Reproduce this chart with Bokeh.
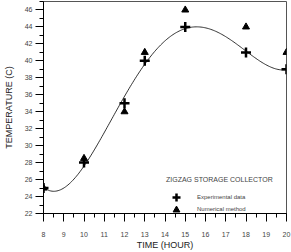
import numpy as np
from bokeh.plotting import figure
from bokeh.models import Legend, LegendItem, FixedTicker, Range1d
from bokeh.embed import file_html
from bokeh.resources import INLINE

# Hourly temperatures of the zigzag storage collector
hours = [8, 10, 12, 13, 15, 18, 20]
experimental = [25, 28, 35, 40, 44, 41, 39]
numerical = [25, 28.5, 34, 41, 46, 44, 41]

x_ticks = list(range(8, 21))
y_ticks = list(range(22, 48, 2))

p = figure(width=291, height=252, output_backend="svg", toolbar_location=None,
           x_range=Range1d(8, 20), y_range=Range1d(22, 47),
           min_border_left=43, min_border_right=5, min_border_top=1,
           min_border_bottom=28)
p.background_fill_color = "white"
p.border_fill_color = "white"
p.outline_line_color = "#555555"
p.outline_line_width = 1
p.xgrid.visible = False
p.ygrid.visible = False

font = "Liberation Sans"
for ax in (p.xaxis[0], p.yaxis[0]):
    ax.axis_line_color = "black"
    ax.major_tick_line_color = "black"
    ax.minor_tick_line_color = "black"
    ax.major_label_text_font = font
    ax.major_label_text_font_size = "7px"
    ax.major_label_text_color = "#444444"
    ax.axis_label_text_font = font
    ax.axis_label_text_font_style = "normal"
    ax.axis_label_text_color = "#222222"
    ax.major_tick_in = 0
    ax.minor_tick_in = 0

p.xaxis.ticker = FixedTicker(ticks=x_ticks, minor_ticks=list(np.arange(8, 20.01, 0.5)))
p.yaxis.ticker = FixedTicker(ticks=y_ticks, minor_ticks=list(range(22, 48)))
p.xaxis.major_tick_out = 8
p.xaxis.minor_tick_out = 4
p.yaxis.major_tick_out = 8
p.yaxis.minor_tick_out = 4
p.xaxis.major_label_standoff = 10
p.yaxis.major_label_standoff = 3
p.xaxis.axis_label = "TIME (HOUR)"
p.yaxis.axis_label = "TEMPERATURE (C)"
p.xaxis.axis_label_text_font_size = "9px"
p.yaxis.axis_label_text_font_size = "9px"
p.xaxis.axis_label_standoff = 0
p.yaxis.axis_label_standoff = 8

# Smooth trend fitted to the experimental readings
coef = np.polyfit(hours, experimental, 4)
xs = np.linspace(8, 20, 200)
p.line(xs, np.polyval(coef, xs), line_color="black", line_width=0.8)

r_exp = p.scatter(hours, experimental, marker="cross", size=10,
                  line_color="black", line_width=2.5)
r_num = p.scatter(hours, numerical, marker="triangle", size=7,
                  fill_color="black", line_color="black")

# Legend split in two so the rows sit closer than one glyph box
common = dict(border_line_alpha=0, background_fill_alpha=0,
              label_text_font=font, label_text_font_size="6px",
              label_height=18, spacing=0, padding=0, label_standoff=11,
              margin=0)
legend_a = Legend(items=[LegendItem(label="Experimental data", renderers=[r_exp])],
                  title="ZIGZAG STORAGE COLLECTOR", title_text_font=font,
                  title_text_font_size="7px", title_text_font_style="normal",
                  title_standoff=4, glyph_width=20, glyph_height=20,
                  location=(123, 6), **common)
legend_b = Legend(items=[LegendItem(label="Numerical method", renderers=[r_num])],
                  glyph_width=20, glyph_height=17,
                  location=(123, -5), **common)
p.add_layout(legend_a)
p.add_layout(legend_b)

open("out.html", "w").write(file_html(p, INLINE))
